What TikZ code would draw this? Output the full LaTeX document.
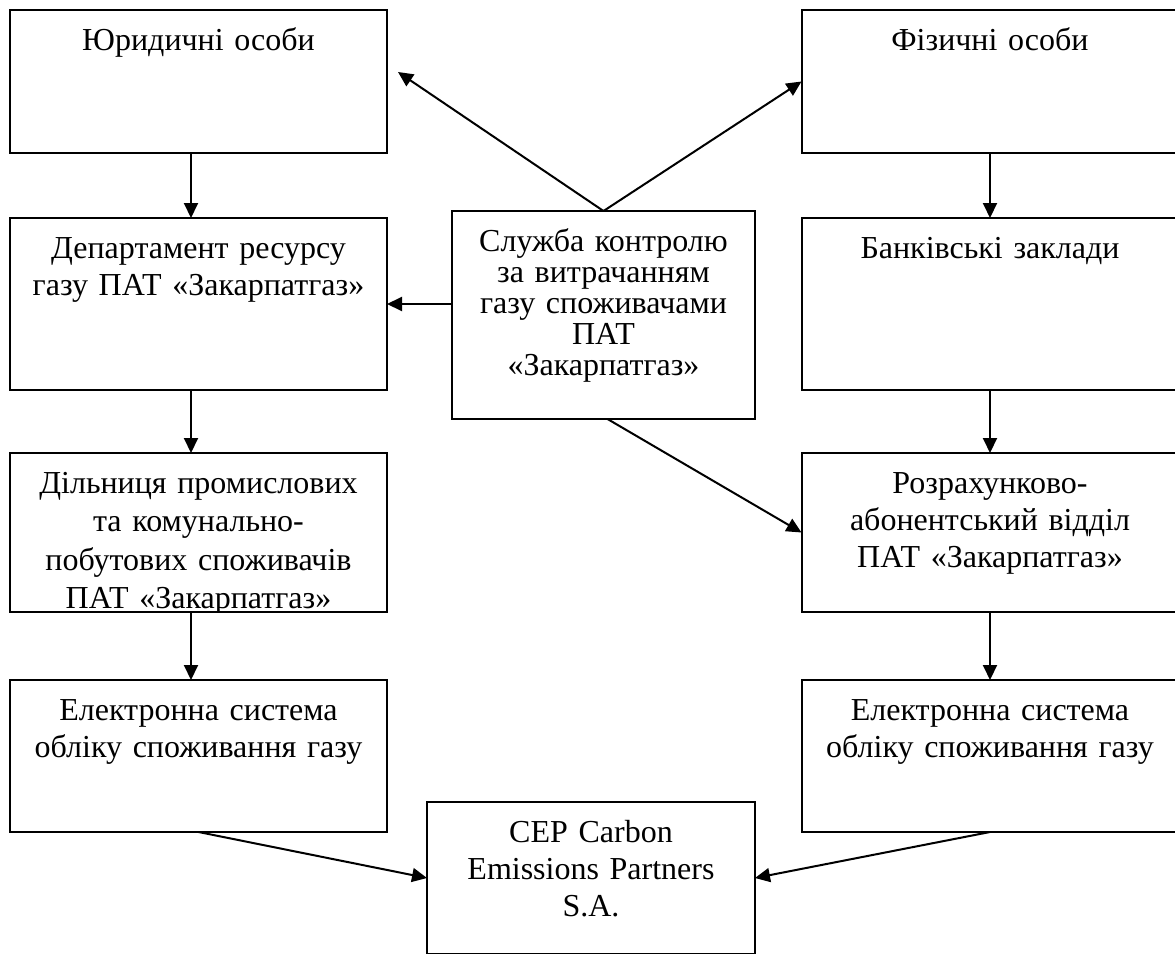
\documentclass[tikz,border=0pt]{standalone}
\usepackage{fontspec}
\setmainfont{Liberation Serif}
\usetikzlibrary{positioning}
\usetikzlibrary{arrows.meta}
\tikzset{%
  myedge/.style={->, line width=2pt, >={Triangle[length=15pt, width=14pt]}},
  mybox/.style={draw=black, line width=2pt, inner sep=0pt, outer sep=0pt, minimum width=377pt},
  mytext/.style={anchor=base, inner sep=0pt, align=center, text width=360pt,
    font=\fontsize{32}{#1}\selectfont},
  boxtext/.style={boxtextsp={#1}{37}},
  boxtextsp/.style 2 args={path picture={\node[mytext=#2] at ([yshift=-40pt]path picture bounding box.north) {#1};}}
}

\begin{document}
\begin{tikzpicture}[x=1pt, y=-1pt]
  \clip (0,0) rectangle (1175,953);
  % left column
  \node[mybox, minimum height=143pt, boxtext={Юридичні особи}] (yur) at (198.5,81.5) {};
  \node[mybox, minimum height=172pt, below=65pt, boxtext={Департамент ресурсу\\газу ПАТ «Закарпатгаз»}] (dep) at (yur.south) {};
  \node[mybox, minimum height=159pt, below=63pt, boxtextsp={Дільниця промислових\\та комунально-\\побутових споживачів\\ПАТ «Закарпатгаз»}{38.5}] (dil) at (dep.south) {};
  \node[mybox, minimum height=152pt, below=68pt, boxtext={Електронна система\\обліку споживання газу}] (el1) at (dil.south) {};
  % right column
  \node[mybox, minimum height=143pt, boxtext={Фізичні особи}] (fiz) at (990,81.5) {};
  \node[mybox, minimum height=172pt, below=65pt, boxtext={Банківські заклади}] (bank) at (fiz.south) {};
  \node[mybox, minimum height=159pt, below=63pt, boxtext={Розрахунково-\\абонентський відділ\\ПАТ «Закарпатгаз»}] (rozr) at (bank.south) {};
  \node[mybox, minimum height=152pt, below=68pt, boxtext={Електронна система\\обліку споживання газу}] (el2) at (rozr.south) {};
  % middle
  \node[mybox, minimum width=303pt, minimum height=208pt, boxtextsp={Служба контролю\\за витрачанням\\газу споживачами\\ПАТ\\«Закарпатгаз»}{31}] (sluzh) at (603.5,315) {};
  \node[mybox, minimum width=328pt, minimum height=152pt, boxtext={CEP Carbon\\Emissions Partners\\S.A.}] (cep) at (591,878) {};
  \coordinate (yurtip) at (398,72);

  \draw [myedge] ([xshift=-7.5pt]yur.south) -- ([xshift=-7.5pt]dep.north);
  \draw [myedge] ([xshift=-7.5pt]dep.south) -- ([xshift=-7.5pt]dil.north);
  \draw [myedge] ([xshift=-7.5pt]dil.south) -- ([xshift=-7.5pt]el1.north);
  \draw [myedge] (fiz) -- (bank);
  \draw [myedge] (bank) -- (rozr);
  \draw [myedge] (rozr) -- (el2);
  \draw [myedge] (sluzh.north) -- (yurtip);
  \draw [myedge] (sluzh.north) -- (fiz.west);
  \draw [myedge] (sluzh.west |- dep.east) -- (dep.east);
  \draw [myedge] ([xshift=4pt]sluzh.south) -- (rozr.west);
  \draw [myedge] (el1.south) -- (cep.west);
  \draw [myedge] (el2.south) -- (cep.east);
\end{tikzpicture}
\end{document}
